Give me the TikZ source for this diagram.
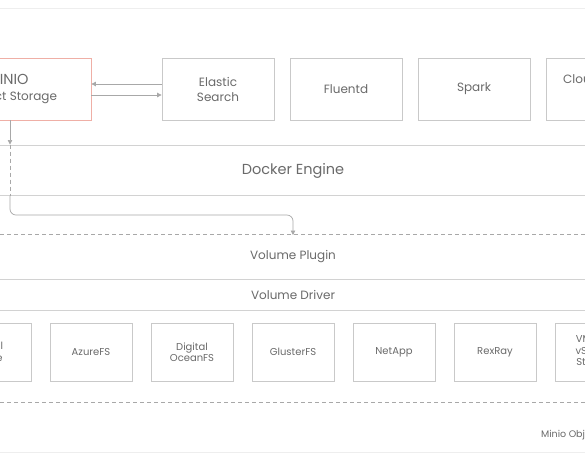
\documentclass[tikz,border=0pt]{standalone}
\usepackage{fontspec}
\setmainfont{Poppins}
\usetikzlibrary{arrows.meta}
\definecolor{txt}{HTML}{6A6A6A}
\definecolor{boxc}{HTML}{C9C9C9}
\definecolor{linec}{HTML}{D2D2D2}
\definecolor{pinkc}{HTML}{EFAFA6}
\definecolor{faint}{HTML}{EEEEEE}
\definecolor{conc}{HTML}{A8A8A8}
\tikzset{
  topbox/.style={draw=boxc, line width=0.8pt, minimum width=112pt, minimum height=62pt, text=txt, font=\fontsize{12}{15}\selectfont, align=center, inner sep=0pt},
  botbox/.style={draw=boxc, line width=0.8pt, minimum width=82pt, minimum height=58pt, text=txt, font=\fontsize{10}{11.5}\selectfont, align=center, inner sep=0pt},
  band/.style={text=txt, inner sep=0pt},
  conn/.style={draw=conc, line width=0.7pt},
  tip/.style={-{Triangle[length=4.5pt,width=4.5pt]}},
  dashline/.style={draw=conc, line width=0.7pt, dash pattern=on 4pt off 3pt},
}
\begin{document}
\begin{tikzpicture}[x=1pt,y=-1pt]
\useasboundingbox (0,0) rectangle (585,459);
\clip (0,0) rectangle (585,459);
\fill[white] (0,0) rectangle (585,459);
% faint frame lines
\draw[faint, line width=1pt] (0,8) -- (585,8);
\draw[faint, line width=1pt] (0,452) -- (585,452);
% top row
\node[topbox, draw=pinkc, minimum width=156pt] (minio) at (13,89) {};
\node[text=txt, font=\fontsize{14.5}{15}\selectfont, inner sep=0pt] (miniot) at (8,79) {MINIO};
\node[text=txt, font=\fontsize{12}{14}\selectfont, inner sep=0pt] (minios) at (12,98) {Object Storage};
\node[topbox] (elastic) at (218,89) {Elastic\\Search};
\node[topbox] (fluentd) at (346,89) {Fluentd};
\node[topbox] (spark) at (474,89) {Spark};
\node[topbox] (cloud) at (602,89) {};
\node[text=txt, font=\fontsize{12}{15}\selectfont, inner sep=0pt, anchor=west] (cloudt) at (563,81) {Cloud Foundry};
% arrows minio <-> elastic
\draw[conn, tip] ([yshift=5pt]elastic.west) -- ([yshift=5pt]elastic.west -| minio.east);
\draw[conn, tip] ([yshift=-6pt]minio.east) -- ([yshift=-6pt]minio.east -| elastic.west);
% docker engine band
\node[draw=linec, line width=1pt, minimum width=620pt, minimum height=50pt, inner sep=0pt] (docker) at (292.5,170) {};
\node[band, font=\fontsize{14.5}{16}\selectfont] (dockert) at (293,171) {Docker Engine};
% volume plugin / driver bands
\coordinate (pl) at (0,234);
\coordinate (pr) at (585,234);
\draw[dashline] (pl) -- (pr);
\node[band, font=\fontsize{12}{13}\selectfont] (plugin) at (293,257) {Volume Plugin};
\coordinate (dl) at (0,279);
\coordinate (dr) at (585,279);
\draw[linec, line width=1pt] (dl) -- (dr);
\node[band, font=\fontsize{12}{13}\selectfont] (driver) at (293,295) {Volume Driver};
\coordinate (el) at (0,310);
\coordinate (er) at (585,310);
\draw[linec, line width=1pt] (el) -- (er);
% minio -> volume plugin connector
\coordinate (v0) at (minio.south -| 10,0);
\coordinate (v1) at (docker.north -| 10,0);
\coordinate (v2) at (docker.south -| 10,0);
\coordinate (v3) at (293,234);
\draw[conn, tip] (v0) -- (v1);
\draw[dashline] (v1) -- (v2);
\draw[conn, tip, rounded corners=6pt] (v2) -- (10,215) -- (293,215) -- ([yshift=-1pt]v3);
% bottom row
\node[botbox] (local) at (-10,352) {Local\\Drive};
\node[botbox] (azure) at (91,352) {AzureFS};
\node[botbox] (digital) at (192,352) {Digital\\OceanFS};
\node[botbox] (gluster) at (293,352) {GlusterFS};
\node[botbox] (netapp) at (394,352) {NetApp};
\node[botbox] (rexray) at (495,352) {RexRay};
\node[botbox] (vmware) at (596,352) {VMware\\vSphere\\Storage};
\coordinate (bl) at (0,402);
\coordinate (br) at (585,402);
\draw[dashline] (bl) -- (br);
\node[text=txt, font=\fontsize{9.5}{10}\selectfont, inner sep=0pt, anchor=west] (caption) at (541,435) {Minio Object Storage};
\end{tikzpicture}
\end{document}
